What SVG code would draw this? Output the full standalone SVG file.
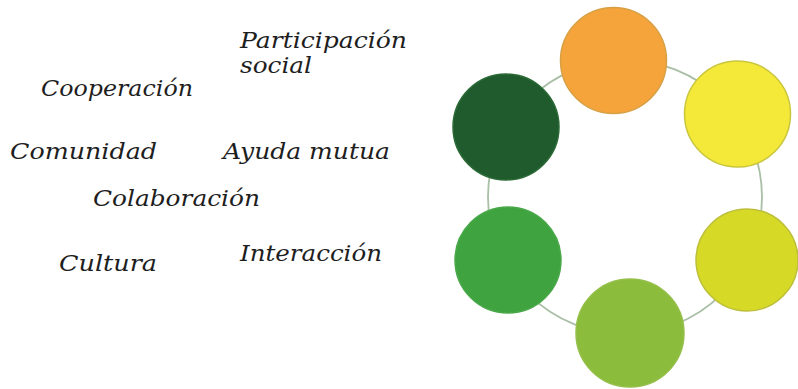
<svg xmlns="http://www.w3.org/2000/svg" width="798" height="389" viewBox="0 0 798 389">
<style>
.t{font-family:"DejaVu Serif","Liberation Serif",serif;font-style:italic;font-size:22px;fill:#1e1e1e}
.n{stroke-width:1.5}
.ring{fill:none;stroke:#a9bfa6;stroke-width:1.8}
</style>
<rect width="798" height="389" fill="#ffffff"/>
<g id="connectors">
<circle class="ring" cx="625" cy="197" r="137"/>
</g>
<g id="node-orange"><circle class="n" cx="613.5" cy="60.5" r="53" fill="#F5A43B" stroke="#d8a045"/></g>
<g id="node-yellow"><circle class="n" cx="737.5" cy="114" r="53" fill="#F4E938" stroke="#c9c63e"/></g>
<g id="node-darkgreen"><circle class="n" cx="506" cy="127" r="53" fill="#1F5B2D" stroke="#2b6a36"/></g>
<g id="node-green"><circle class="n" cx="508" cy="260" r="53" fill="#3FA33F" stroke="#4aa84a"/></g>
<g id="node-yellowgreen"><circle class="n" cx="747" cy="260" r="51" fill="#D6DA27" stroke="#bdbf3a"/></g>
<g id="node-lightgreen"><circle class="n" cx="630" cy="333" r="54" fill="#8CBC3B" stroke="#94bf4a"/></g>
<g id="labels">
<text class="t" x="240" y="48" textLength="167" lengthAdjust="spacingAndGlyphs">Participación</text>
<text class="t" x="240" y="73" textLength="72" lengthAdjust="spacingAndGlyphs">social</text>
<text class="t" x="41" y="96" textLength="152" lengthAdjust="spacingAndGlyphs">Cooperación</text>
<text class="t" x="10" y="159" textLength="147" lengthAdjust="spacingAndGlyphs">Comunidad</text>
<text class="t" x="223" y="159" textLength="167" lengthAdjust="spacingAndGlyphs">Ayuda mutua</text>
<text class="t" x="93" y="206" textLength="167" lengthAdjust="spacingAndGlyphs">Colaboración</text>
<text class="t" x="59" y="271" textLength="98" lengthAdjust="spacingAndGlyphs">Cultura</text>
<text class="t" x="240" y="261" textLength="142" lengthAdjust="spacingAndGlyphs">Interacción</text>
</g>
</svg>
